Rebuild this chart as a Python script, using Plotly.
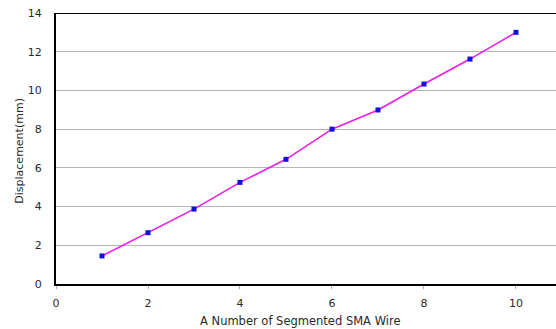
import plotly.graph_objects as go

# Displacement vs. number of segmented SMA wires
segments = [1, 2, 3, 4, 5, 6, 7, 8, 9, 10]
displacement = [1.45, 2.65, 3.87, 5.25, 6.44, 8.0, 8.99, 10.33, 11.62, 13.0]
x_ticks = [0, 2, 4, 6, 8, 10, 12]
y_ticks = [0, 2, 4, 6, 8, 10, 12, 14]

font_family = "DejaVu Sans, Verdana, sans-serif"
text_color = "#2a2a2a"

fig = go.Figure()
fig.add_trace(go.Scatter(
    x=segments, y=displacement, mode="lines+markers",
    line=dict(color="#e81ee8", width=1.6),
    marker=dict(symbol="square", size=5, color="#1010e0"),
    showlegend=False, cliponaxis=False,
))

fig.update_xaxes(
    range=[0, 10.87], tickvals=x_ticks, showgrid=False,
    showline=True, linecolor="black", linewidth=2,
    ticks="outside", ticklen=3, tickcolor="#aaaaaa",
    ticklabelstandoff=5,
    tickfont=dict(family=font_family, size=11, color=text_color),
    zeroline=False,
)
fig.update_yaxes(
    range=[0, 14], tickvals=y_ticks, showgrid=True,
    gridcolor="#b4b4b4", gridwidth=1,
    showline=True, linecolor="black", linewidth=2, mirror=False,
    ticks="", ticklabelstandoff=10,
    tickfont=dict(family=font_family, size=11, color=text_color),
    zeroline=False,
)

# top frame line
fig.add_shape(type="line", xref="paper", yref="y", x0=0, x1=1, y0=14, y1=14,
              line=dict(color="black", width=2))

fig.add_annotation(text="A Number of Segmented SMA Wire", xref="paper", yref="paper",
                   x=0.488, y=-0.135, showarrow=False, yanchor="middle",
                   font=dict(family=font_family, size=11.5, color=text_color))
fig.add_annotation(text="Displacement(mm)", xref="paper", yref="paper",
                   x=-0.09, y=0.49, showarrow=False, textangle=-90,
                   font=dict(family=font_family, size=11, color=text_color))

fig.update_layout(
    width=556, height=329,
    margin=dict(l=56, r=0, t=13, b=45),
    paper_bgcolor="white", plot_bgcolor="white",
)

fig.write_html("out.html")
